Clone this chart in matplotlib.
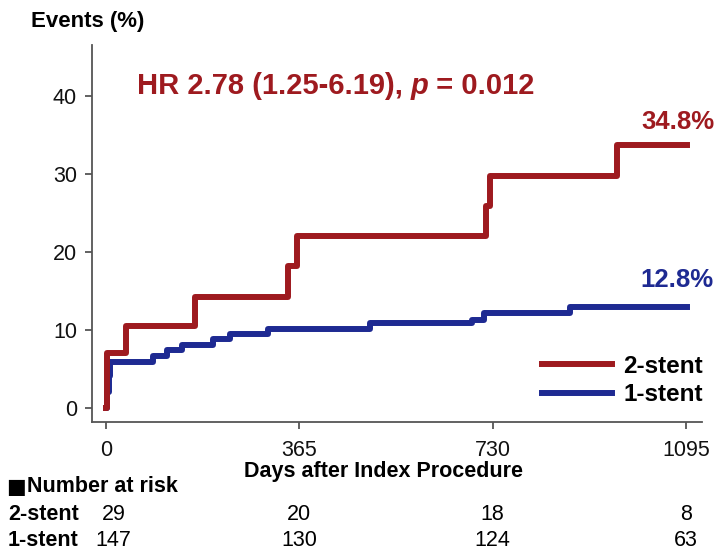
import matplotlib
matplotlib.use('Agg')
import matplotlib.pyplot as plt
from matplotlib.lines import Line2D

plt.rcParams['font.family'] = ['Liberation Sans', 'DejaVu Sans']

# данные кривых (дни, % событий)
days_2 = [0, 2, 37, 168, 344, 360, 718, 725, 964, 1096]
ev_2 = [0, 7.0, 10.5, 14.2, 18.1, 22.0, 25.8, 29.7, 33.7, 33.7]
days_1 = [0, 2, 5, 8, 89, 115, 143, 202, 234, 306, 498, 690, 713, 876, 1096]
ev_1 = [0, 2.0, 4.0, 5.9, 6.6, 7.4, 8.0, 8.8, 9.4, 10.1, 10.8, 11.3, 12.1, 12.9, 12.9]

xticks = [0, 365, 730, 1095]
yticks = [0, 10, 20, 30, 40]
risk_2 = [29, 20, 18, 8]
risk_1 = [147, 130, 124, 63]

red = '#9E1A1F'
blue = '#1E2A92'
grey = '#555555'

W, H = 715, 551
fig = plt.figure(figsize=(W / 100, H / 100), dpi=100)
ax = fig.add_axes([92.3 / W, 1 - 421.7 / H, 609.7 / W, 376.7 / H])

ax.plot(days_1, ev_1, drawstyle='steps-post', color=blue, lw=4.3, label='1-stent')
ax.plot(days_2, ev_2, drawstyle='steps-post', color=red, lw=4.3, label='2-stent')

ax.set_xlim(-25.9, 1125)
ax.set_ylim(-1.8, 46.5)
ax.set_xticks(xticks)
ax.set_yticks(yticks)
ax.spines['top'].set_visible(False)
ax.spines['right'].set_visible(False)
for s in ['left', 'bottom']:
    ax.spines[s].set_color(grey)
    ax.spines[s].set_linewidth(1.3)
ax.tick_params(axis='both', colors=grey, width=1.3, length=5, labelsize=15.5,
               labelcolor='#111111')
ax.tick_params(axis='x', pad=8)
ax.tick_params(axis='y', pad=6)

# легенда
hs = [Line2D([], [], color=red, lw=4.3), Line2D([], [], color=blue, lw=4.3)]
ax.legend(hs, ['2-stent', '1-stent'], loc='center left',
          bbox_to_anchor=(541.7 / W, 1 - 380.5 / H), bbox_transform=fig.transFigure,
          frameon=False, borderpad=0, borderaxespad=0, handlelength=2.9,
          handletextpad=0.45, labelspacing=0.22,
          prop={'size': 17.5, 'weight': 'bold'})


def fx(x):
    return x / W


def fy(y):
    return 1 - y / H


fig.text(fx(31), fy(21), 'Events (%)', fontsize=16, fontweight='bold', va='center')

t1 = fig.text(fx(136.7), fy(86), 'HR 2.78 (1.25-6.19), ', fontsize=21,
              fontweight='bold', color=red, va='center')
t2 = ax.annotate('p', xy=(1, 0), xycoords=t1, va='bottom', ha='left',
                 fontsize=21, fontweight='bold', fontstyle='italic', color=red)
ax.annotate(' = 0.012', xy=(1, 0), xycoords=t2, va='bottom', ha='left',
            fontsize=21, fontweight='bold', color=red)

fig.text(fx(714), fy(122), '34.8%', fontsize=18.5, fontweight='bold', color=red,
         ha='right', va='center')
fig.text(fx(714), fy(280), '12.8%', fontsize=18.5, fontweight='bold', color=blue,
         ha='right', va='center')

fig.text(fx(384), fy(471), 'Days after Index Procedure', fontsize=15.5,
         fontweight='bold', ha='center', va='center')
fig.text(fx(6), fy(487), '\u25A0', fontsize=15, va='center', family='DejaVu Sans')
fig.text(fx(27), fy(487), 'Number at risk', fontsize=15.5, fontweight='bold',
         va='center')
fig.text(fx(8), fy(514), '2-stent', fontsize=15.5, fontweight='bold', va='center')
fig.text(fx(8), fy(541), '1-stent', fontsize=15.5, fontweight='bold', va='center')

# числа под риском, по оси x
for i, d in enumerate(xticks):
    off = 14 if i == 0 else 0
    xf = fig.transFigure.inverted().transform(ax.transData.transform((d + off, 0)))[0]
    fig.text(xf, fy(514), str(risk_2[i]), fontsize=15.5, ha='center', va='center')
    fig.text(xf, fy(541), str(risk_1[i]), fontsize=15.5, ha='center', va='center')

fig.savefig('out.png', dpi=100)
